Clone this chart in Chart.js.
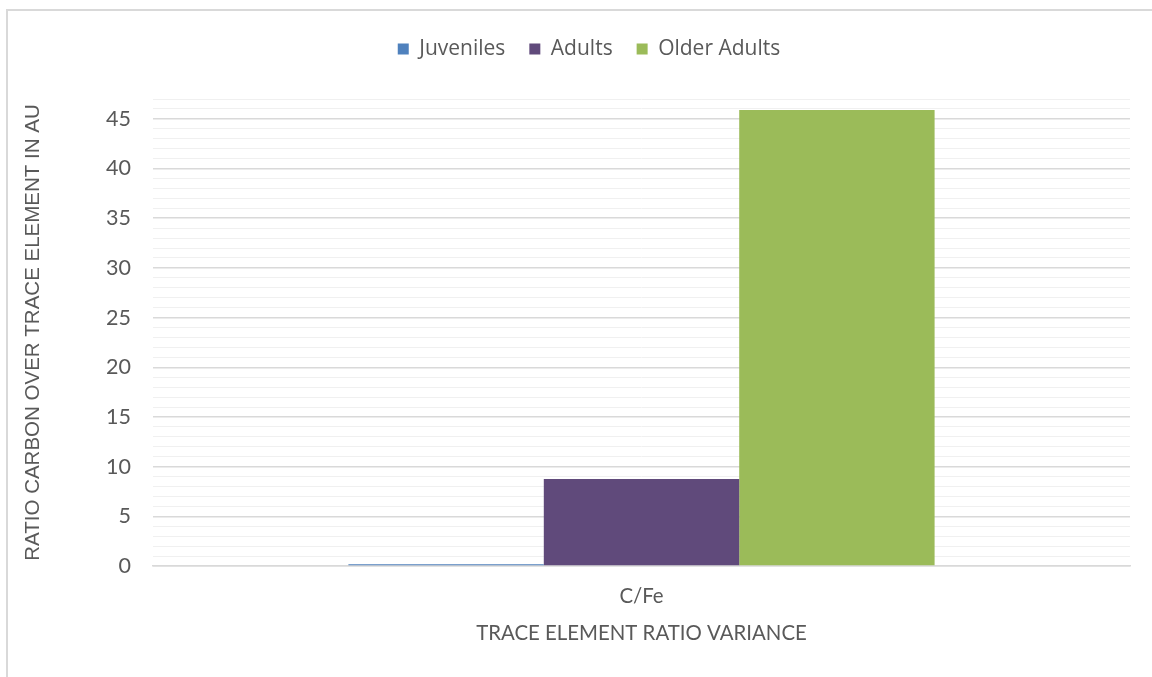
<!DOCTYPE html>
<html><head><meta charset="utf-8">
<script src="https://cdn.jsdelivr.net/npm/chart.js@4"></script>
<style>
html,body{margin:0;padding:0;background:#fff;overflow:hidden;width:1152px;height:677px}
#frame{position:absolute;left:6px;top:9px;width:1300px;height:800px;border-left:2px solid #d9d9d9;border-top:2px solid #d9d9d9;box-sizing:border-box}
canvas{position:absolute;left:0;top:0}
</style></head><body>
<div id="frame"></div>
<canvas id="c" width="1152" height="677"></canvas>
<script>
const categories = ['C/Fe'];
const juveniles = [0.17];
const adults = [8.76];
const olderAdults = [45.9];
const yTickLabels = [0, 5, 10, 15, 20, 25, 30, 35, 40, 45];
const xTitle = 'TRACE ELEMENT RATIO VARIANCE';
const yTitle = 'RATIO CARBON OVER TRACE ELEMENT IN AU';

const txt = '#595959';
const axisFont = {family: 'Lato', size: 20.4};

const legendSpacer = {
  id: 'legendSpacer',
  beforeLayout(chart) {
    const l = chart.legend;
    if (!l || l._spaced) return;
    const orig = l.fit;
    l.fit = function () { orig.call(this); this.height += 29.5; };
    l._spaced = true;
  },
  afterLayout(chart) {
    const l = chart.legend;
    if (!l) return;
    l.left += 24;
    l.right += 24;
  }
};

new Chart(document.getElementById('c'), {
  type: 'bar',
  data: {
    labels: categories,
    datasets: [
      {label: 'Juveniles', data: juveniles, backgroundColor: '#4f81bd'},
      {label: 'Adults', data: adults, backgroundColor: '#604a7b'},
      {label: 'Older Adults', data: olderAdults, backgroundColor: '#9bbb59'}
    ]
  },
  plugins: [legendSpacer],
  options: {
    responsive: false,
    animation: false,
    devicePixelRatio: 1,
    categoryPercentage: 0.6,
    barPercentage: 1,
    layout: {padding: {top: 14.5, right: 22, bottom: 0, left: 0}},
    plugins: {
      legend: {
        position: 'top',
        labels: {font: {family: 'Open Sans', size: 21}, color: txt, boxWidth: 11, boxHeight: 11, padding: 24}
      },
      tooltip: {enabled: false}
    },
    scales: {
      x: {
        grid: {display: false, drawTicks: false},
        border: {display: true, color: '#d9d9d9', width: 1.5},
        ticks: {font: axisFont, color: txt, padding: 18},
        title: {display: true, text: xTitle, font: axisFont, color: txt, padding: {top: 0, bottom: 31}},
        afterFit(s) { s.height = 111; }
      },
      y: {
        min: 0, max: 47,
        ticks: {
          stepSize: 1, autoSkip: false, maxTicksLimit: 100, padding: 22,
          font: {family: 'Lato', size: 21.5}, color: txt,
          callback(v) { return yTickLabels.includes(v) ? String(v) : ''; }
        },
        grid: {
          drawTicks: false,
          color(ctx) { return ctx.tick && ctx.tick.value % 5 === 0 ? '#d9d9d9' : '#f0f0f0'; },
          lineWidth(ctx) { return ctx.tick && ctx.tick.value % 5 === 0 ? 1.5 : 1; }
        },
        border: {display: false},
        title: {display: true, text: yTitle, font: {family: 'Liberation Sans', size: 20.5}, color: txt, padding: {top: 21, bottom: 0}},
        afterFit(s) { s.width = 153; }
      }
    }
  }
});
</script>
</body></html>
